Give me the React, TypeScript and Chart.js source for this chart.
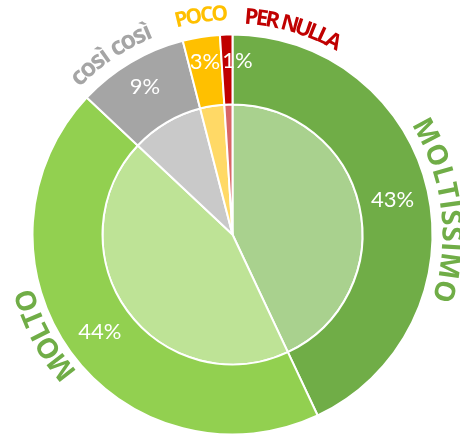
import React, { useEffect, useRef } from 'react';
import { Chart, registerables } from 'chart.js';

Chart.register(...registerables);

// ---- data ----
const categories = ['MOLTISSIMO', 'MOLTO', 'così così', 'POCO', 'PER NULLA'];
const values = [43, 44, 9, 3, 1];
const outerColors = ['#70AD47', '#92D050', '#A5A5A5', '#FFC000', '#C00000'];
const innerColors = ['#A9D18E', '#BEE396', '#C9C9C9', '#FFD966', '#D96666'];
const labelColors = ['#70AD47', '#70AD47', '#A5A5A5', '#FFC000', '#C00000'];

// ---- layout (angles clockwise from 12 o'clock, degrees) ----
const PCT_FONT = 'Lato, "Open Sans", "Noto Sans", sans-serif';
const LABEL_FONT = '"Open Sans", "Noto Sans", "DejaVu Sans", sans-serif';
const curvedLayout = [
  { from: 62, to: 105, r: 220, size: 28, mid: 0.36 },
  { from: 232.2, to: 252.2, r: 217, size: 28, mid: 0.36 },
  { from: 315.6, to: 337.2, r: 219, size: 25, mid: 0.27 },
  { from: 346.6, to: 356.7, r: 222, size: 21, mid: 0.36 },
  { from: 5, to: 27.6, r: 219, size: 22, mid: 0.36 },
];
const pctLayout = [
  { r: 164, dAngle: 0 },
  { r: 164, dAngle: 0 },
  { r: 172, dAngle: 0 },
  { r: 176, dAngle: 0 },
  { r: 174, dAngle: 3.4 },
];

const labelsPlugin = {
  id: 'ringLabels',
  afterDatasetsDraw(chart: any) {
    const ctx: CanvasRenderingContext2D = chart.ctx;
    const meta = chart.getDatasetMeta(0);
    if (!meta.data.length) return;
    const cx = meta.data[0].x;
    const cy = meta.data[0].y;
    const total = values.reduce((a, b) => a + b, 0);

    ctx.save();
    // percentage labels
    const pSize = 22;
    ctx.font = `400 ${pSize}px ${PCT_FONT}`;
    ctx.fillStyle = '#FFFFFF';
    ctx.textAlign = 'center';
    ctx.textBaseline = 'alphabetic';
    meta.data.forEach((arc: any, i: number) => {
      const mid = (arc.startAngle + arc.endAngle) / 2 + (pctLayout[i].dAngle * Math.PI) / 180;
      const r = pctLayout[i].r;
      const x = cx + r * Math.cos(mid);
      const y = cy + r * Math.sin(mid);
      const txt = Math.round((values[i] / total) * 100) + '%';
      ctx.fillText(txt, x, y + pSize * 0.36);
    });

    // curved category labels
    categories.forEach((text, i) => {
      const L = curvedLayout[i];
      ctx.font = `700 ${L.size}px ${LABEL_FONT}`;
      ctx.fillStyle = labelColors[i];
      ctx.textAlign = 'center';
      ctx.textBaseline = 'alphabetic';
      const chars = Array.from(text);
      const centers = chars.map((ch, k) => {
        const pre = ctx.measureText(chars.slice(0, k).join('')).width;
        return pre + ctx.measureText(ch).width / 2;
      });
      const c0 = centers[0];
      const c1 = centers[centers.length - 1];
      chars.forEach((ch, k) => {
        if (ch === ' ') return;
        const t = (centers[k] - c0) / (c1 - c0);
        const deg = L.from + t * (L.to - L.from);
        const a = (deg * Math.PI) / 180;
        const x = cx + L.r * Math.sin(a);
        const y = cy - L.r * Math.cos(a);
        ctx.save();
        ctx.translate(x, y);
        ctx.rotate(a);
        ctx.fillText(ch, 0, L.size * L.mid);
        ctx.restore();
      });
    });
    ctx.restore();
  },
};

export default function App() {
  const canvasRef = useRef<HTMLCanvasElement | null>(null);

  useEffect(() => {
    if (!canvasRef.current) return;
    const chart = new Chart(canvasRef.current, {
      type: 'doughnut',
      data: {
        labels: categories,
        datasets: [
          {
            data: values,
            backgroundColor: outerColors,
            borderColor: '#FFFFFF',
            borderWidth: 2,
            weight: 70,
            hoverOffset: 0,
          } as any,
          {
            data: values,
            backgroundColor: innerColors,
            borderColor: '#FFFFFF',
            borderWidth: 2,
            weight: 130,
            hoverOffset: 0,
          } as any,
        ],
      },
      options: {
        responsive: false,
        animation: false,
        events: [],
        cutout: 0,
        radius: 200,
        layout: { padding: { left: 5, right: 0, top: 32, bottom: 0 } },
        plugins: {
          legend: { display: false },
          tooltip: { enabled: false },
        },
      } as any,
      plugins: [labelsPlugin],
    });
    return () => chart.destroy();
  }, []);

  return (
    <div style={{ position: 'absolute', left: 0, top: 0, width: 460, height: 437, background: '#FFFFFF' }}>
      <canvas ref={canvasRef} width={460} height={437} />
    </div>
  );
}
